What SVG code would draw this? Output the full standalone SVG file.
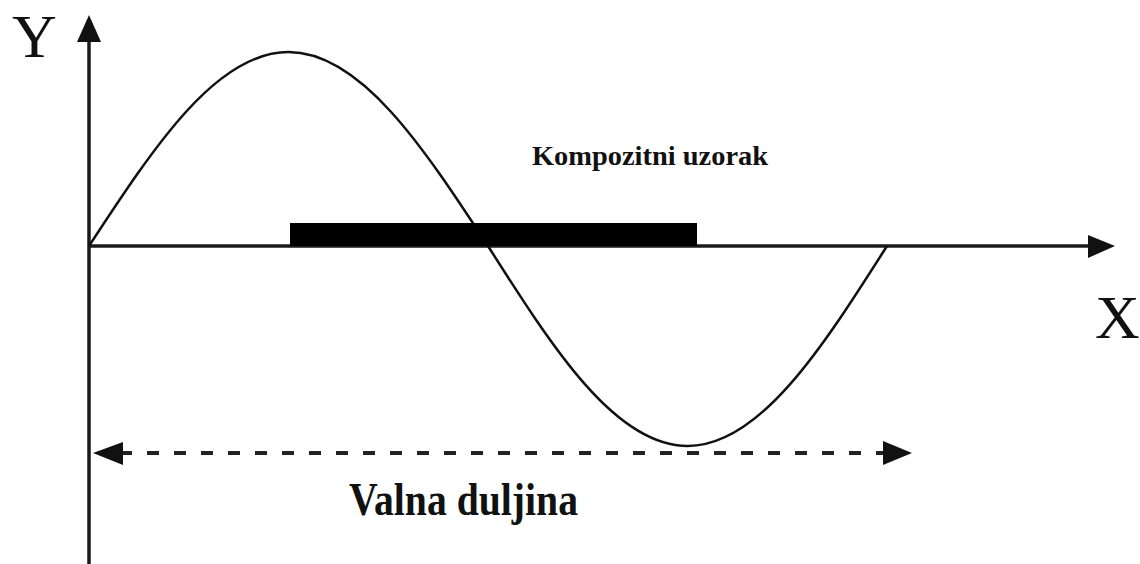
<svg xmlns="http://www.w3.org/2000/svg" width="1140" height="564" viewBox="0 0 1140 564">
  <style>
    .axis { stroke: #1a1a1a; stroke-width: 3.5; fill: none; }
    .head { fill: #111; }
    .wave { stroke: #111; stroke-width: 2.5; fill: none; }
    .dash { stroke: #222; stroke-width: 4; fill: none; stroke-dasharray: 12 15; }
    .axlabel { font-family: "Liberation Serif", "Times New Roman", serif; font-size: 62px; fill: #111; }
    .lbl { font-family: "Liberation Serif", "Times New Roman", serif; font-weight: bold; fill: #111; }
  </style>
  <rect width="1140" height="564" fill="#ffffff"/>

  <g id="connectors">
    <g id="y-axis">
      <line class="axis" x1="89" y1="38" x2="89" y2="564"/>
      <polygon class="head" points="89,15 77,42 101,42"/>
    </g>
    <g id="x-axis">
      <line class="axis" x1="89" y1="246" x2="1092" y2="246"/>
      <polygon class="head" points="1115,246 1088,235 1088,258"/>
    </g>
    <g id="wavelength-arrow">
      <line class="dash" x1="120" y1="453" x2="886" y2="453"/>
      <polygon class="head" points="93,453 123,442 123,465"/>
      <polygon class="head" points="912,453 883,441 883,465"/>
    </g>
  </g>

  <g id="wave">
    <path class="wave" d="M89,246 C154.1,146.6 216.3,52 288.5,52 C360.7,52 422.9,146.6 488,246 C553.1,348.5 615.3,446 687.5,446 C759.7,446 821.9,348.5 887,246"/>
  </g>

  <g id="sample">
    <rect x="290" y="223" width="407" height="23" fill="#000"/>
  </g>

  <g id="label-y">
    <text class="axlabel" x="12" y="57">Y</text>
  </g>
  <g id="label-x">
    <text class="axlabel" x="1095" y="338">X</text>
  </g>
  <g id="label-sample">
    <text class="lbl" x="532" y="165" font-size="28" textLength="236" lengthAdjust="spacingAndGlyphs">Kompozitni uzorak</text>
  </g>
  <g id="label-wavelength">
    <text class="lbl" x="349" y="515" font-size="47" textLength="229" lengthAdjust="spacingAndGlyphs">Valna duljina</text>
  </g>
</svg>
